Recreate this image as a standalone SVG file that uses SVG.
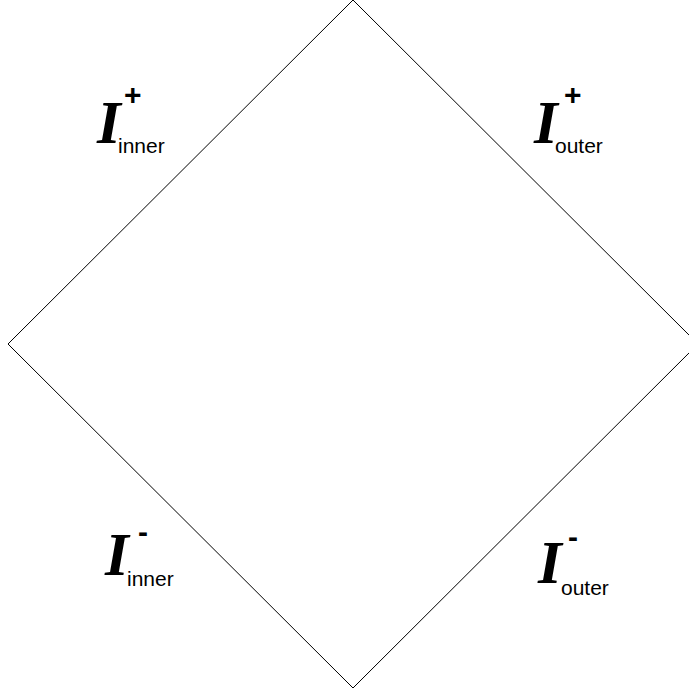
<svg xmlns="http://www.w3.org/2000/svg" width="689" height="694" viewBox="0 0 689 694">
<style>
.I{font-family:"Liberation Serif",serif;font-style:italic;font-weight:bold;font-size:61px;fill:#000}
.sup{font-family:"Liberation Sans",Arial,sans-serif;font-weight:bold;font-size:30px;fill:#000}
.sub{font-family:"Liberation Sans",Arial,sans-serif;font-size:21px;fill:#000}
.edge{fill:none;stroke:#000;stroke-width:1}
</style>
<rect width="689" height="694" fill="#fff"/>
<g id="connectors">
<path class="edge" d="M353,0 L8,344 L353,688 L698,344 Z"/>
</g>
<g id="scri-plus-inner">
<text class="I" x="97" y="143">I</text>
<text class="sup" x="124" y="105">+</text>
<text class="sub" x="118" y="153">inner</text>
</g>
<g id="scri-plus-outer">
<text class="I" x="534" y="143">I</text>
<text class="sup" x="564" y="105">+</text>
<text class="sub" x="555" y="153">outer</text>
</g>
<g id="scri-minus-inner">
<text class="I" x="105" y="575">I</text>
<text class="sup" x="138" y="542">-</text>
<text class="sub" x="127" y="586">inner</text>
</g>
<g id="scri-minus-outer">
<text class="I" x="538" y="583">I</text>
<text class="sup" x="568" y="547">-</text>
<text class="sub" x="561" y="595">outer</text>
</g>
</svg>
